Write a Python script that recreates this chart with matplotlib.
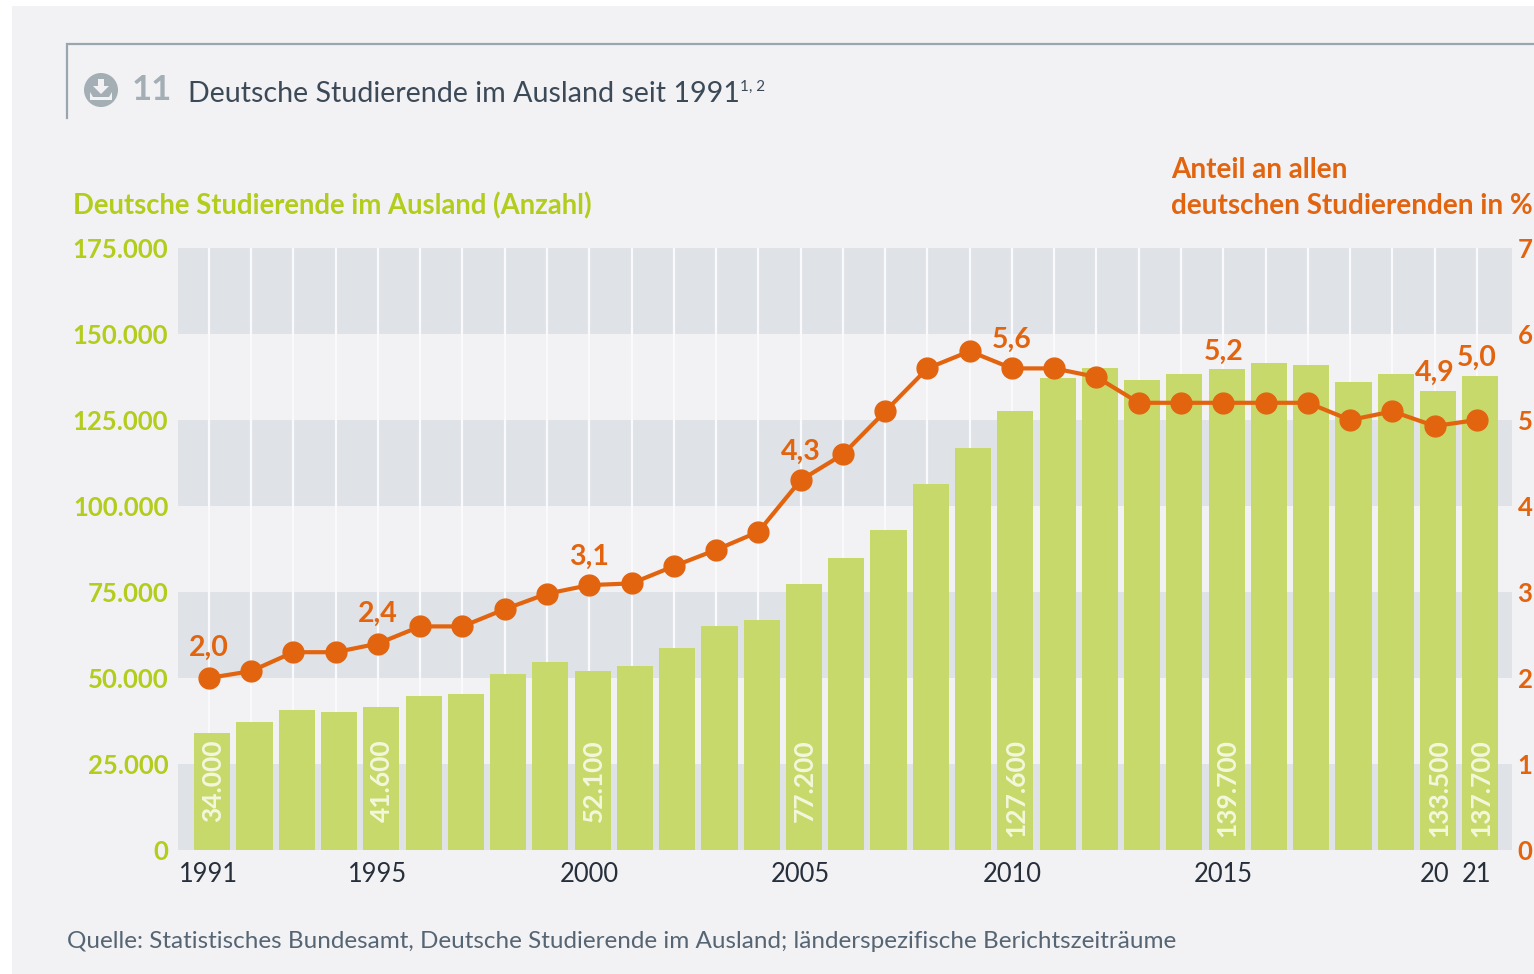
#!/usr/bin/env python3
import matplotlib
matplotlib.use("Agg")
import matplotlib.pyplot as plt
from matplotlib.patches import Circle, Polygon, Rectangle

W, H = 1534, 974

years = list(range(1991, 2022))
students = [34000, 37200, 40700, 40100, 41600, 44800, 45400, 51200, 54700, 52100,
            53500, 58700, 65100, 66900, 77200, 84900, 93000, 106400, 116900, 127600,
            137200, 140200, 136600, 138500, 139700, 141700, 141000, 136000, 138500,
            133500, 137700]
share = [2.0, 2.08, 2.3, 2.3, 2.4, 2.6, 2.6, 2.8, 2.98, 3.08, 3.1, 3.3, 3.49, 3.7, 4.3,
         4.6, 5.1, 5.6, 5.8, 5.6, 5.6, 5.5, 5.2, 5.2, 5.2, 5.2, 5.2, 5.0, 5.1, 4.93, 5.0]
bar_labels = {1991: "34.000", 1995: "41.600", 2000: "52.100", 2005: "77.200",
              2010: "127.600", 2015: "139.700", 2020: "133.500", 2021: "137.700"}
share_labels = {1991: "2,0", 1995: "2,4", 2000: "3,1", 2005: "4,3", 2010: "5,6",
                2015: "5,2", 2020: "4,9", 2021: "5,0"}
year_ticks = [1991, 1995, 2000, 2005, 2010, 2015, 2020, 2021]
year_tick_labels = ["1991", "1995", "2000", "2005", "2010", "2015", "20", "21"]
left_ticks = [0, 25000, 50000, 75000, 100000, 125000, 150000, 175000]
left_tick_labels = ["0", "25.000", "50.000", "75.000", "100.000", "125.000", "150.000", "175.000"]
right_ticks = [0, 1, 2, 3, 4, 5, 6, 7]

GREEN = "#b4cc1c"
BAR = "#c8d96c"
ORANGE = "#e2640f"
BAND = "#dfe2e6"
PAGE = "#f2f2f5"
DARK = "#3c4a58"

plt.rcParams["font.family"] = ["Lato", "DejaVu Sans"]

fig = plt.figure(figsize=(W / 100, H / 100), dpi=100, facecolor="white")

# page layer in pixel coordinates
bg = fig.add_axes([0, 0, 1, 1])
bg.set_xlim(0, W)
bg.set_ylim(H, 0)
bg.axis("off")
bg.add_patch(Rectangle((12, 6), W - 12, H - 6, color=PAGE, lw=0))
bg.plot([67, 67, W], [118, 44, 44], color="#9aa6af", lw=1.6, solid_joinstyle="miter")
bg.add_patch(Circle((101, 90), 17, color="#a3aeb5", lw=0))
bg.add_patch(Polygon([[98, 79], [104, 79], [104, 86], [109, 86], [101, 94], [93, 86], [98, 86]],
                     color=PAGE, lw=0))
bg.add_patch(Polygon([[90, 92], [93, 97], [109, 97], [112, 92], [112, 100], [90, 100]],
                     color=PAGE, lw=0))
bg.text(132, 90, "11", color="#a3aeb5", fontsize=25, fontweight="bold", va="center")
bg.text(188, 94, "Deutsche Studierende im Ausland seit 1991", color=DARK, fontsize=20.6, va="center")
bg.text(740, 87, "1, 2", color=DARK, fontsize=11, va="center")
bg.text(73, 206, "Deutsche Studierende im Ausland (Anzahl)", color=GREEN, fontsize=19.8,
        fontweight="bold", va="center")
bg.text(1171, 170, "Anteil an allen", color=ORANGE, fontsize=20.1, fontweight="bold", va="center")
bg.text(1171, 206, "deutschen Studierenden in %", color=ORANGE, fontsize=20.1, fontweight="bold", va="center")
bg.text(67, 942, "Quelle: Statistisches Bundesamt, Deutsche Studierende im Ausland; "
        "länderspezifische Berichtszeiträume", color="#566573", fontsize=17.5, va="center")

# plot area
ax = fig.add_axes([178 / W, 1 - 850 / H, (1512 - 178) / W, (850 - 248) / H])
ax.patch.set_visible(False)
ax.set_xlim(1990.27, 2021.83)
ax.set_ylim(0, 175000)
for low in [0, 50000, 100000, 150000]:
    ax.axhspan(low, low + 25000, color=BAND, lw=0, zorder=0)
for year in years:
    ax.axvline(year, color="#fafafc", lw=1.6, zorder=1)
ax.bar([y + 0.08 for y in years], students, width=0.855, color=BAR, zorder=2)
for year, label in bar_labels.items():
    ax.text(year + 0.1, 32200, label, rotation=90, color="#f4f7dc", fontsize=19,
            fontweight="bold", ha="center", va="top", zorder=3)

ax.set_xticks(year_ticks, year_tick_labels)
ax.set_yticks(left_ticks, left_tick_labels)
ax.tick_params(axis="x", length=0, pad=9, labelsize=18.4, labelcolor="#262f3a")
ax.tick_params(axis="y", length=0, pad=7, labelsize=18.5, labelcolor=GREEN)
for label in ax.get_yticklabels():
    label.set_fontweight("bold")
for s in ax.spines.values():
    s.set_visible(False)

ax2 = ax.twinx()
ax2.set_ylim(0, 7)
ax2.plot(years, share, color=ORANGE, lw=3, marker="o", ms=15, zorder=5)
ax2.set_yticks(right_ticks)
ax2.tick_params(axis="y", length=0, pad=4, labelsize=18.5, labelcolor=ORANGE)
for label in ax2.get_yticklabels():
    label.set_fontweight("bold")
for s in ax2.spines.values():
    s.set_visible(False)
for (year, label), up in zip(share_labels.items(), [30, 30, 28, 28, 29, 51, 53, 62]):
    ax2.annotate(label, (year, share[years.index(year)]), xytext=(0, up * 0.72),
                 textcoords="offset points", color=ORANGE, fontsize=20.5, fontweight="bold",
                 ha="center", va="center", zorder=6)

fig.savefig("out.png", dpi=100)
